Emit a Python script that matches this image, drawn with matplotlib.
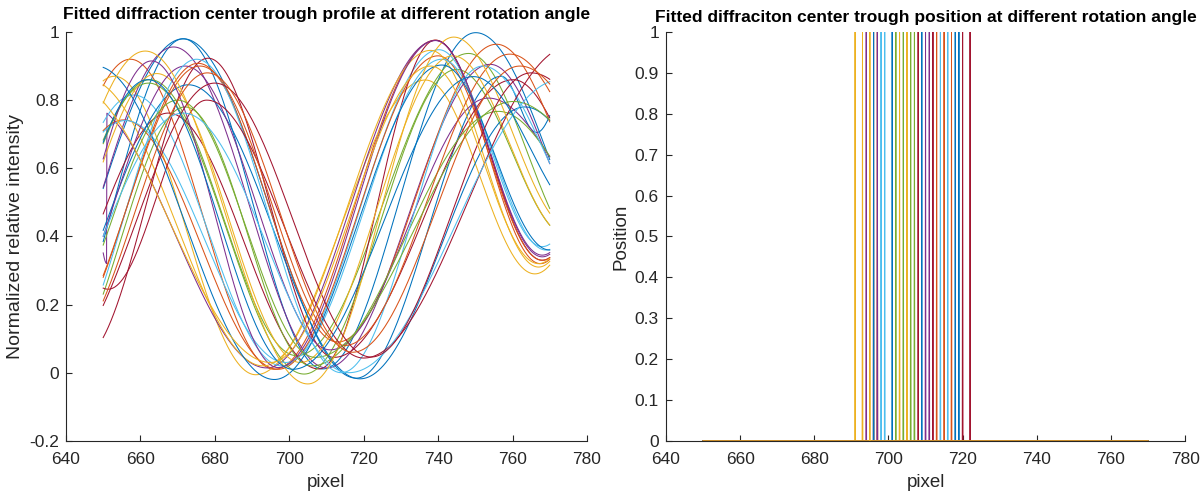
import numpy as np
import matplotlib
matplotlib.use("Agg")
import matplotlib.pyplot as plt

plt.rcParams['font.family'] = ['Liberation Sans', 'DejaVu Sans']

# MATLAB default line colour order
colors = ['#0072BD', '#D95319', '#EDB120', '#7E2F8E', '#77AC30', '#4DBEEE', '#A2142F']

# fitted trough profiles, one entry per rotation angle
trough_x = [709, 696, 691, 694, 702, 698, 708, 718, 697, 693,
            710, 704, 699, 712, 719, 713, 703, 711, 706, 714,
            720, 696, 715, 705, 697, 707, 716, 722, 701, 717,
            695]
trough_y = [0.011, 0.010, -0.006, 0.014, 0.050, 0.020, 0.011, -0.016, 0.010, 0.020,
            0.014, -0.004, 0.030, 0.045, -0.018, 0.090, 0.030, 0.067, 0.020, 0.000,
            0.043, -0.020, 0.080, -0.033, 0.015, 0.045, 0.000, 0.046, 0.010, 0.060,
            0.030]
left_peak_x = [671.5, 657.3, 653.0, 645.0, 662.6, 658.2, 667.5, 671.5, 655.5, 646.0,
               668.9, 662.2, 656.0, 678.2, 672.9, 675.5, 664.4, 672.0, 672.0, 675.1,
               677.8, 648.0, 676.0, 661.3, 663.0, 670.0, 671.5, 680.0, 662.0, 678.0,
               641.0]
left_peak_y = [0.980, 0.920, 0.870, 0.790, 0.860, 0.815, 0.762, 0.980, 0.742, 0.860,
               0.956, 0.850, 0.740, 0.923, 0.845, 0.908, 0.878, 0.900, 0.780, 0.920,
               0.800, 0.900, 0.900, 0.944, 0.915, 0.800, 0.762, 0.850, 0.860, 0.880,
               0.850]
right_peak_x = [750.1, 739.3, 736.6, 739.3, 748.2, 740.2, 739.3, 757.0, 740.0, 738.0,
                754.0, 745.0, 741.0, 760.2, 763.3, 755.7, 744.0, 753.5, 756.2, 752.0,
                776.0, 741.0, 759.3, 744.2, 739.3, 760.2, 773.0, 765.0, 749.5, 762.0,
                738.0]
right_peak_y = [0.998, 0.976, 0.859, 0.975, 0.937, 0.948, 0.976, 0.870, 0.930, 0.946,
                0.905, 0.890, 0.920, 0.860, 0.780, 0.964, 0.930, 0.806, 0.767, 0.900,
                0.960, 0.903, 0.935, 0.985, 0.975, 0.796, 0.860, 0.880, 0.869, 0.900,
                0.900]
end_x = [790, 767.5, 766, 768, 780, 768, 768, 766.5, 768, 767,
         785, 775, 769, 790, 795, 790, 775, 790, 790, 785,
         810, 770, 795, 776, 768, 795, 805, 800, 780, 800,
         767]
end_y = [0.25, 0.32, 0.29, 0.34, 0.35, 0.37, 0.33, 0.705, 0.33, 0.31,
         0.35, 0.40, 0.36, 0.40, 0.40, 0.35, 0.40, 0.40, 0.40, 0.40,
         0.30, 0.36, 0.40, 0.42, 0.345, 0.50, 0.40, 0.50, 0.45, 0.40,
         0.32]
# curves that turn back up at the left edge of the window
edge_min = {20: (651.3, 0.245), 3: (651.0, 0.32)}

pixel = np.arange(650, 770.01, 0.1)


def profile(x, ex, ey):
    ex = np.asarray(ex, float)
    ey = np.asarray(ey, float)
    y = np.empty_like(x)
    for j, xi in enumerate(x):
        if xi <= ex[0]:
            t = (ex[0] - xi) / (ex[1] - ex[0])
            y[j] = ey[0] + (ey[1] - ey[0]) * (1 - np.cos(np.pi * t)) / 2
        elif xi >= ex[-1]:
            t = (xi - ex[-1]) / (ex[-1] - ex[-2])
            y[j] = ey[-1] + (ey[-2] - ey[-1]) * (1 - np.cos(np.pi * t)) / 2
        else:
            k = np.searchsorted(ex, xi) - 1
            t = (xi - ex[k]) / (ex[k + 1] - ex[k])
            y[j] = ey[k] + (ey[k + 1] - ey[k]) * (1 - np.cos(np.pi * t)) / 2
    return y


fig = plt.figure(figsize=(12.02, 4.92), dpi=100)
ax1 = fig.add_axes([0.0549, 0.104, 0.4334, 0.831])
ax2 = fig.add_axes([0.554, 0.104, 0.432, 0.831])

for i in range(len(trough_x)):
    c = colors[i % 7]
    ex = [left_peak_x[i], trough_x[i], right_peak_x[i], end_x[i]]
    ey = [left_peak_y[i], trough_y[i], right_peak_y[i], end_y[i]]
    if i in edge_min:
        ex = [edge_min[i][0]] + ex
        ey = [edge_min[i][1]] + ey
    ax1.plot(pixel, profile(pixel, ex, ey), color=c, lw=0.75)

    # trough marker: 1 at the fitted position, 0 elsewhere
    pos = np.where(np.isclose(pixel, trough_x[i]), 1.0, 0.0)
    ax2.plot(pixel, pos, color=c, lw=0.7)

for ax in (ax1, ax2):
    ax.set_xlim(640, 780)
    ax.set_xticks(np.arange(640, 781, 20))
    for s in ('top', 'right'):
        ax.spines[s].set_visible(False)
    for s in ('left', 'bottom'):
        ax.spines[s].set_color('#262626')
        ax.spines[s].set_linewidth(0.8)
    ax.tick_params(direction='in', length=4, width=0.8, colors='#262626',
                   labelsize=12.5)
    ax.tick_params(axis='x', pad=8)
    ax.tick_params(axis='y', pad=5)
    ax.set_xlabel('pixel', fontsize=13.5, color='#262626', labelpad=5)

ax1.set_ylim(-0.2, 1)
ax1.set_yticks([-0.2, 0, 0.2, 0.4, 0.6, 0.8, 1])
ax1.set_yticklabels(['-0.2', '0', '0.2', '0.4', '0.6', '0.8', '1'])
ax1.set_ylabel('Normalized relative intensity', fontsize=14, color='#262626', labelpad=4)
ax1.set_title('Fitted diffraction center trough profile at different rotation angle',
              fontsize=12.5, fontweight='bold', pad=9)

ax2.set_ylim(0, 1)
ax2.set_yticks(np.arange(0, 1.01, 0.1))
ax2.set_yticklabels(['0', '0.1', '0.2', '0.3', '0.4', '0.5', '0.6', '0.7', '0.8', '0.9', '1'])
ax2.set_ylabel('Position', fontsize=13.5, color='#262626', labelpad=4)
ax2.set_title('Fitted diffraciton center trough position at different rotation angle',
              fontsize=12.5, fontweight='bold', pad=7)

fig.savefig('out.png', dpi=100)
